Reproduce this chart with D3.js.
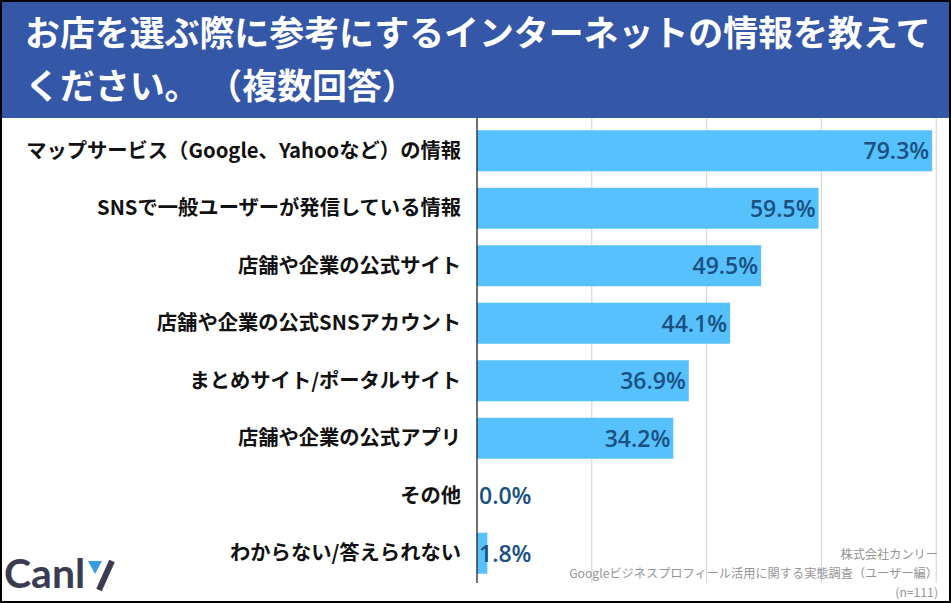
<!DOCTYPE html>
<html><head><meta charset="utf-8">
<script src="https://cdn.jsdelivr.net/npm/d3@7/dist/d3.min.js"></script>
<style>
html,body{margin:0;padding:0;background:#fff;}
svg{display:block;font-family:"Noto Sans CJK JP","Noto Sans",sans-serif;}
</style></head>
<body><svg id="c" width="951" height="603"></svg>
<script>
const titleLines = ["お店を選ぶ際に参考にするインターネットの情報を教えて", "ください。 （複数回答）"];
const categories = [
  "マップサービス（Google、Yahooなど）の情報",
  "SNSで一般ユーザーが発信している情報",
  "店舗や企業の公式サイト",
  "店舗や企業の公式SNSアカウント",
  "まとめサイト/ポータルサイト",
  "店舗や企業の公式アプリ",
  "その他",
  "わからない/答えられない"
];
const values = [79.3, 59.5, 49.5, 44.1, 36.9, 34.2, 0.0, 1.8];
const gridTicks = [20, 40, 60, 80, 100];
const sourceLines = ["株式会社カンリー", "Googleビジネスプロフィール活用に関する実態調査（ユーザー編）", "(n=111)"];

const W = 951, H = 603;
const svg = d3.select("#c");

// header
svg.append("rect").attr("x",0).attr("y",0).attr("width",W).attr("height",118).attr("fill","#3457a7");
svg.selectAll("text.title").data(titleLines).join("text")
  .attr("class","title")
  .attr("x",25).attr("y",(d,i)=>46+i*53)
  .attr("fill","#fff").attr("font-size",34.9).attr("font-weight",700)
  .text(d=>d);

const x = d3.scaleLinear().domain([0,100]).range([477,1051]);
const y = d3.scaleBand().domain(categories).range([122,582]).paddingInner(0.287).paddingOuter(0.1435);

const g = svg.append("g");
// gridlines
g.selectAll("line.grid").data(gridTicks).join("line")
  .attr("x1",d=>x(d)).attr("x2",d=>x(d)).attr("y1",118).attr("y2",583)
  .attr("stroke","#d9d9d9").attr("stroke-width",1.2);

// bars
g.selectAll("rect.bar").data(values).join("rect")
  .attr("x",x(0)).attr("y",(d,i)=>y(categories[i]))
  .attr("width",d=>x(d)-x(0)).attr("height",y.bandwidth())
  .attr("fill","#56c1fd");

// axis line
g.append("line").attr("x1",x(0)).attr("x2",x(0)).attr("y1",118).attr("y2",583)
  .attr("stroke","#222").attr("stroke-width",1.3);

// category labels
g.selectAll("text.cat").data(categories).join("text")
  .attr("x",461).attr("y",d=>y(d)+y.bandwidth()/2)
  .attr("dy","0.35em").attr("text-anchor","end")
  .attr("font-size",20.3).attr("font-weight",700).attr("fill","#111")
  .text(d=>d);

// value labels
g.selectAll("text.val").data(values).join("text")
  .attr("x",d=> (x(d)-x(0) > 75) ? x(d)-3 : x(0)+2)
  .attr("text-anchor",d=> (x(d)-x(0) > 75) ? "end" : "start")
  .attr("y",(d,i)=>y(categories[i])+y.bandwidth()/2)
  .attr("dy","0.36em")
  .attr("font-family","'Open Sans','Noto Sans',sans-serif")
  .attr("font-size",23).attr("font-weight",600).attr("fill","#1a5180")
  .text(d=>d.toFixed(1)+"%");

// source
svg.selectAll("text.src").data(sourceLines).join("text")
  .attr("x",938).attr("y",(d,i)=>559+i*19)
  .attr("text-anchor","end").attr("font-size",12.2).attr("fill","#959595")
  .text(d=>d);

// logo
const logo = svg.append("g");
logo.append("text").attr("x",4).attr("y",588)
  .attr("font-family","Lato,'Noto Sans',sans-serif").attr("font-size",41).attr("font-weight",700)
  .attr("fill","#3b3c52").text("Canl");
logo.append("path").attr("d","M88,561 L102,561 L95,574 Z").attr("fill","#3a9be0");
logo.append("path").attr("d","M112,561 L99,590").attr("stroke","#3b3c52").attr("stroke-width",6).attr("stroke-linecap","butt");

// frame
svg.append("rect").attr("x",1).attr("y",1).attr("width",W-2).attr("height",H-2)
  .attr("fill","none").attr("stroke","#000").attr("stroke-width",2);
</script>
</body></html>
